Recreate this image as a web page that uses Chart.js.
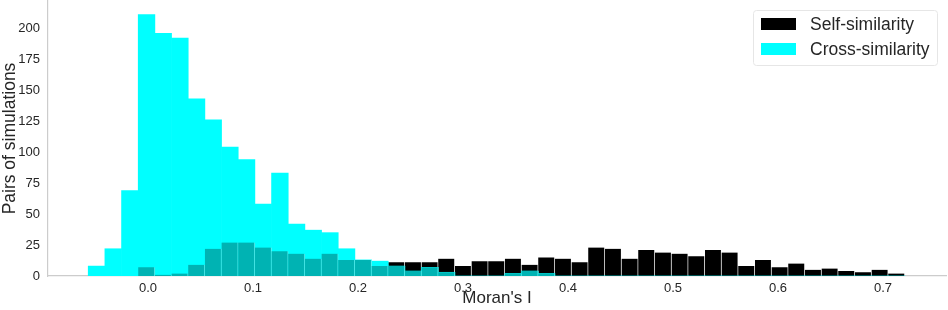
<!DOCTYPE html>
<html>
<head>
<meta charset="utf-8">
<script src="https://cdn.jsdelivr.net/npm/chart.js@4"></script>
<style>
  body { margin: 0; background: #fff; }
  #wrap { width: 948px; height: 310px; }
</style>
</head>
<body>
<div id="wrap"><canvas id="hist"></canvas></div>
<script>
// histogram bins (Moran's I), same bins for both series
const binStart = -0.0569;
const binWidth = 0.015873;
const selfCounts = [
    0, 0, 0, 7, 1, 2, 9, 22, 27, 27,
    23, 20, 18, 14, 18, 13, 13, 8, 11, 11,
    11, 14, 8, 12, 12, 14, 9, 15, 14, 11,
    23, 22, 14, 21, 19, 18, 16, 21, 19, 8,
    13, 7, 10, 5, 6, 4, 3, 5, 2
];
const crossCounts = [
    8, 22, 69, 211, 196, 192, 143, 126, 104, 94,
    58, 83, 42, 37, 35, 22, 13, 12, 8, 4,
    7, 3, 0, 0, 0, 2, 4, 2, 0, 0,
    0, 0, 0, 0, 0, 0, 0, 0, 0, 0,
    0, 0, 0, 0, 0, 0, 0, 0, 0
];
const xTicks = [0, 0.1, 0.2, 0.3, 0.4, 0.5, 0.6, 0.7];
const yTicks = [0, 25, 50, 75, 100, 125, 150, 175, 200];

const FONT = "'Liberation Sans', Arial, sans-serif";
const TEXT = '#262626';

const binCenter = i => binStart + binWidth * (i + 0.5);
const selfPts = selfCounts.map((v, i) => ({x: binCenter(i), y: v}));
const crossPts = crossCounts.map((v, i) => ({x: binCenter(i), y: v}));
// where the two overlap the cyan (alpha) over black shows as teal
const overlapPts = selfCounts.map((v, i) => ({x: binCenter(i), y: Math.min(v, crossCounts[i])}));

const boxLegend = {
    id: 'boxLegend',
    afterDraw(chart) {
        const ctx = chart.ctx;
        const items = chart.data.datasets.filter(d => d.inLegend);
        const x = 753, y = 10, w = 184, h = 55;
        ctx.save();
        ctx.fillStyle = 'rgba(255,255,255,0.85)';
        ctx.strokeStyle = '#e6e6e6';
        ctx.lineWidth = 1;
        ctx.beginPath();
        ctx.roundRect(x + 0.5, y + 0.5, w, h, 3);
        ctx.fill();
        ctx.stroke();
        ctx.font = '17.5px ' + FONT;
        ctx.textBaseline = 'middle';
        items.forEach((d, i) => {
            const cy = y + 14 + i * 25;
            ctx.fillStyle = d.backgroundColor;
            ctx.fillRect(x + 8, cy - 6, 35, 12);
            ctx.fillStyle = TEXT;
            ctx.fillText(d.label, x + 57, cy + 1);
        });
        ctx.restore();
    }
};

const config = {
    type: 'bar',
    data: {
        datasets: [{
            label: 'Self-similarity',
            data: selfPts,
            backgroundColor: '#000000',
            borderColor: 'rgba(255,255,255,0.45)',
            borderWidth: {left: 0, right: 1, top: 0, bottom: 0},
            order: 3,
            inLegend: true
        }, {
            label: 'Cross-similarity',
            data: crossPts,
            backgroundColor: '#00ffff',
            borderWidth: 0,
            order: 2,
            inLegend: true
        }, {
            label: 'overlap',
            data: overlapPts,
            backgroundColor: '#00b3b3',
            borderColor: 'rgba(150,235,235,0.6)',
            borderWidth: {left: 0, right: 1, top: 0, bottom: 0},
            order: 1
        }]
    },
    options: {
        responsive: true,
        maintainAspectRatio: false,
        animation: false,
        grouped: false,
        barPercentage: 1,
        categoryPercentage: 1,
        layout: { padding: {top: 1, right: 2, left: 0, bottom: 0} },
        scales: {
            x: {
                type: 'linear',
                offset: false,
                min: -0.0952,
                max: 0.76,
                grid: { display: false, drawTicks: false },
                border: { color: '#cccccc', width: 1.2 },
                afterBuildTicks: s => { s.ticks = xTicks.map(v => ({value: v})); },
                afterFit: s => { s.height = 34; s.paddingLeft = 0; s.paddingRight = 0; },
                ticks: {
                    color: TEXT,
                    font: { family: FONT, size: 13 },
                    padding: 5,
                    maxRotation: 0,
                    autoSkip: false,
                    callback: v => v.toFixed(1)
                },
                title: {
                    display: true,
                    text: "Moran's I",
                    color: TEXT,
                    font: { family: FONT, size: 17 },
                    padding: {top: 0, bottom: 1}
                }
            },
            y: {
                min: 0,
                max: 222,
                grid: { display: false, drawTicks: false },
                border: { color: '#cccccc', width: 1.2 },
                afterBuildTicks: s => { s.ticks = yTicks.map(v => ({value: v})); },
                afterFit: s => { s.width = 48; s.paddingTop = 0; s.paddingBottom = 0; },
                ticks: {
                    color: TEXT,
                    font: { family: FONT, size: 13 },
                    padding: 8
                },
                title: {
                    display: true,
                    text: 'Pairs of simulations',
                    color: TEXT,
                    font: { family: FONT, size: 17.5 },
                    padding: {top: 0, bottom: 0}
                }
            }
        },
        plugins: {
            legend: { display: false },
            tooltip: { enabled: false }
        }
    },
    plugins: [boxLegend]
};

const hist = new Chart(document.getElementById('hist'), config);
</script>
</body>
</html>
